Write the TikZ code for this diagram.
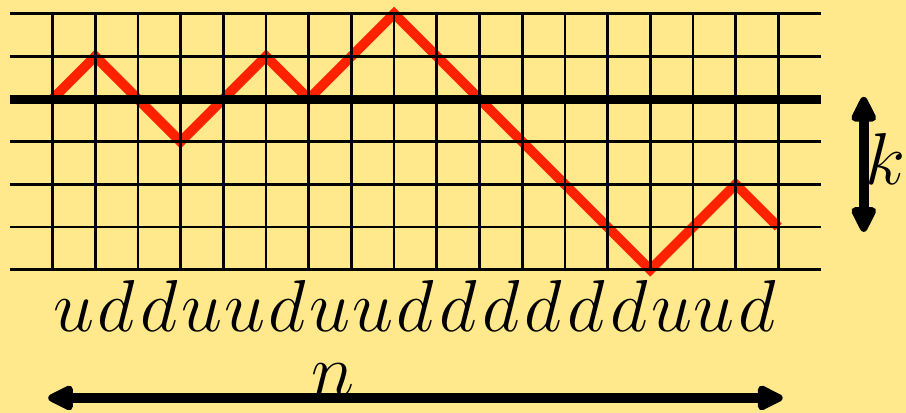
\documentclass[tikz,border=0pt]{standalone}
\usetikzlibrary{arrows.meta}
\definecolor{bg}{RGB}{255,233,140}
\definecolor{pathred}{RGB}{255,34,0}
\begin{document}
\begin{tikzpicture}[
  gridline/.style={line width=1.8pt},
  axis/.style={line width=6pt},
  walk/.style={pathred, line width=6.5pt},
  dim/.style={line width=6.5pt, {Triangle[round,length=20pt,width=18pt]}-{Triangle[round,length=20pt,width=18pt]}},
  letter/.style={font=\Huge, inner sep=0pt, anchor=base, scale=1.97, transform shape}
]
\fill[bg] (-1.23,-3.35) rectangle (19.99,6.32);
\useasboundingbox (-1.23,-3.35) rectangle (19.99,6.32);
\draw[walk] (0,4) -- (1,5) -- (2,4) -- (3,3) -- (4,4) -- (5,5) -- (6,4) -- (7,5) -- (8,6)
  -- (9,5) -- (10,4) -- (11,3) -- (12,2) -- (13,1) -- (14,0) -- (15,1) -- (16,2) -- (17,1);
\foreach \y in {0,1,2,3,5,6} \draw[gridline] (-1,\y) -- (18,\y);
\foreach \x in {0,...,17} \draw[gridline] (\x,0) -- (\x,6);
\draw[axis] (-1,4) -- (18,4);
\foreach \l [count=\i] in {u,d,d,u,u,d,u,u,d,d,d,d,d,d,u,u,d}
  \node[letter] (l\i) at (\i-0.5,-1.45) {$\l$};
\coordinate (nL) at (-0.1,-3);
\coordinate (nR) at (17.1,-3);
\draw[dim] (nL) -- (nR);
\node[letter] (n) at (6.56,-2.95) {$n$};
\coordinate (kT) at (19,4.05);
\coordinate (kB) at (19,0.89);
\draw[dim] (kT) -- (kB);
\node[letter] (k) at (19.52,1.99) {$k$};
\end{tikzpicture}
\end{document}
